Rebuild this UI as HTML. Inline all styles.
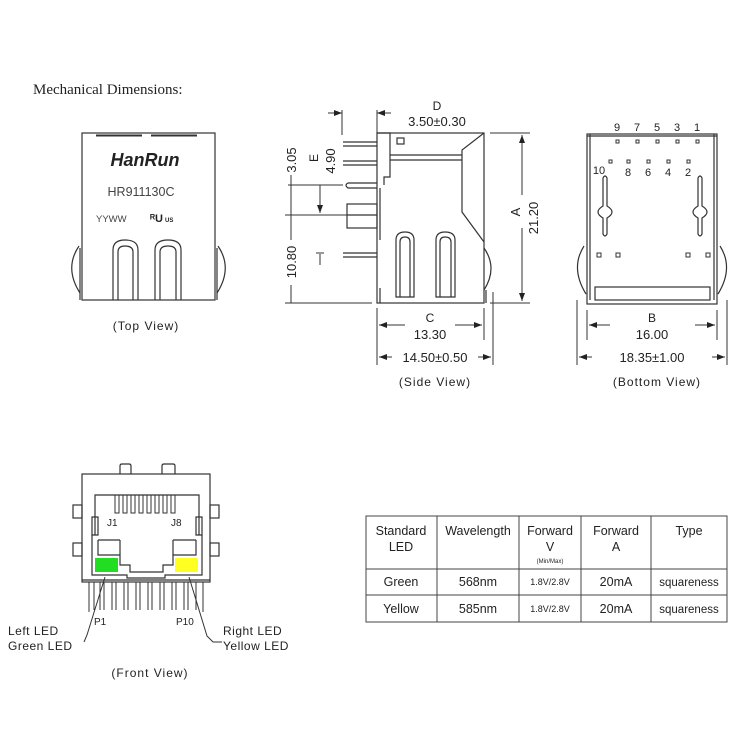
<!DOCTYPE html>
<html><head><meta charset="utf-8"><style>
html,body{margin:0;padding:0;background:#fff;}
svg{display:block;}
text{font-family:"Liberation Sans",sans-serif;fill:#222;}
</style></head><body>
<svg width="750" height="750" viewBox="0 0 750 750" xmlns="http://www.w3.org/2000/svg">
<defs>
<marker id="ar" markerWidth="8" markerHeight="6" refX="8" refY="3" orient="auto" markerUnits="userSpaceOnUse"><path d="M0,0 L8,3 L0,6 z" fill="#222"/></marker>
</defs>
<text x="33" y="94" style="font-family:'Liberation Serif',serif;font-size:15px">Mechanical Dimensions:</text>

<g fill="none" stroke="#333" stroke-width="1.2">
<!-- TOP VIEW -->
<rect x="82" y="133" width="133" height="167"/>
<line x1="96" y1="135.5" x2="142" y2="135.5" stroke-width="2"/>
<line x1="151" y1="135.5" x2="197" y2="135.5" stroke-width="2"/>
<path d="M113,300 L113,250 Q113,240 125,240 Q138,240 138,250 L138,300"/>
<path d="M118,300 L118,252 Q118,246 125,246 Q133,246 133,252 L133,300"/>
<path d="M155,300 L155,250 Q155,240 168,240 Q181,240 181,250 L181,300"/>
<path d="M160,300 L160,252 Q160,246 168,246 Q176,246 176,252 L176,300"/>
<path d="M79,246 Q64,268 80,293"/><line x1="80" y1="248" x2="80" y2="300"/>
<path d="M218,246 Q233,268 217,293"/><line x1="217" y1="248" x2="217" y2="300"/>

<!-- SIDE VIEW -->
<rect x="377" y="133" width="107" height="170"/>
<path d="M377,133 L390,133 L390,177 L384,177 L384,185"/>
<rect x="397" y="138" width="7" height="6"/>
<line x1="390" y1="155" x2="462" y2="155"/><line x1="390" y1="160" x2="462" y2="160"/>
<path d="M484,133 L462,150 L462,212 L484,242"/>
<line x1="343" y1="142" x2="377" y2="142"/><line x1="343" y1="146" x2="377" y2="146"/>
<line x1="343" y1="161" x2="377" y2="161"/><line x1="343" y1="165" x2="377" y2="165"/>
<path d="M377,183 L348,183 Q344,185 348,188 L377,188"/>
<rect x="347" y="204" width="30" height="24"/><line x1="347" y1="215" x2="377" y2="215"/>
<line x1="343" y1="253" x2="377" y2="253"/><line x1="343" y1="257" x2="377" y2="257"/>
<line x1="380" y1="188" x2="380" y2="240"/><line x1="380" y1="288" x2="380" y2="303"/>
<path d="M396,297 L396,240 Q396,232 405,232 Q414,232 414,240 L414,297 Z"/>
<path d="M400,297 L400,242 Q400,237 405,237 Q410,237 410,242 L410,297"/>
<path d="M436,297 L436,240 Q436,232 445,232 Q455,232 455,240 L455,297 Z"/>
<path d="M440,297 L440,242 Q440,237 445,237 Q451,237 451,242 L451,297"/>
<path d="M484,248 Q498,268 484,290"/>
<line x1="486" y1="290" x2="486" y2="303"/>

<!-- side dims -->
<g stroke-width="1">
<line x1="342" y1="110" x2="342" y2="135"/><line x1="377" y1="110" x2="377" y2="133"/>
<line x1="328" y1="113" x2="342" y2="113" marker-end="url(#ar)"/>
<line x1="391" y1="113" x2="377" y2="113" marker-end="url(#ar)"/>
<line x1="490" y1="133" x2="530" y2="133"/><line x1="490" y1="303" x2="530" y2="303"/>
<line x1="522" y1="195" x2="522" y2="135" marker-end="url(#ar)"/>
<line x1="522" y1="228" x2="522" y2="301" marker-end="url(#ar)"/>
<line x1="288" y1="185" x2="343" y2="185"/><line x1="285" y1="215" x2="347" y2="215"/>
<line x1="285" y1="303" x2="372" y2="303"/>
<line x1="291" y1="175" x2="291" y2="185"/><line x1="291" y1="185" x2="291" y2="240"/>
<line x1="291" y1="285" x2="291" y2="303"/>
<line x1="320" y1="185" x2="320" y2="213" marker-end="url(#ar)"/>
<line x1="320" y1="254" x2="320" y2="265"/>
<line x1="316" y1="253" x2="324" y2="253"/>
<line x1="377" y1="308" x2="377" y2="365"/><line x1="484" y1="308" x2="484" y2="340"/>
<line x1="493" y1="292" x2="493" y2="365"/>
<line x1="405" y1="325" x2="379" y2="325" marker-end="url(#ar)"/>
<line x1="455" y1="325" x2="482" y2="325" marker-end="url(#ar)"/>
<line x1="392" y1="357" x2="379" y2="357" marker-end="url(#ar)"/>
<line x1="478" y1="357" x2="491" y2="357" marker-end="url(#ar)"/>
</g>

<!-- BOTTOM VIEW -->
<rect x="587" y="134" width="130" height="170"/>
<line x1="590" y1="134" x2="590" y2="300"/><line x1="714" y1="134" x2="714" y2="300"/>
<line x1="587" y1="136" x2="717" y2="136"/>
<rect x="595" y="287" width="115" height="13"/>
<g stroke-width="1">
<rect x="616" y="140" width="3" height="3"/><rect x="636" y="140" width="3" height="3"/><rect x="656" y="140" width="3" height="3"/><rect x="676" y="140" width="3" height="3"/><rect x="696" y="140" width="3" height="3"/>
<rect x="609" y="160" width="3" height="3"/><rect x="627" y="160" width="3" height="3"/><rect x="647" y="160" width="3" height="3"/><rect x="667" y="160" width="3" height="3"/><rect x="687" y="160" width="3" height="3"/>
<rect x="597" y="253" width="4" height="4"/><rect x="616" y="253" width="4" height="4"/><rect x="686" y="253" width="4" height="4"/><rect x="706" y="253" width="4" height="4"/>
</g>
<path d="M603,206 L603,178 Q605,174 607,178 L607,206 Q617,212 607,218 L607,234 Q605,238 603,234 L603,218 Q593,212 603,206 Z"/>
<path d="M698,206 L698,178 Q700,174 702,178 L702,206 Q712,212 702,218 L702,234 Q700,238 698,234 L698,218 Q688,212 698,206 Z"/>
<path d="M584,246 Q570,268 586,294"/><path d="M720,246 Q734,268 718,294"/>
<g stroke-width="1">
<line x1="587" y1="310" x2="587" y2="340"/><line x1="717" y1="310" x2="717" y2="340"/>
<line x1="577" y1="300" x2="577" y2="365"/><line x1="727" y1="300" x2="727" y2="365"/>
<line x1="610" y1="325" x2="589" y2="325" marker-end="url(#ar)"/>
<line x1="695" y1="325" x2="715" y2="325" marker-end="url(#ar)"/>
<line x1="592" y1="357" x2="579" y2="357" marker-end="url(#ar)"/>
<line x1="712" y1="357" x2="725" y2="357" marker-end="url(#ar)"/>
</g>

<!-- FRONT VIEW -->
<rect x="82" y="474" width="128" height="108"/>
<path d="M120,474 L120,466 Q120,464 122,464 L129,464 Q131,464 131,466 L131,474"/>
<path d="M162,474 L162,466 Q162,464 164,464 L173,464 Q175,464 175,466 L175,474"/>
<rect x="73" y="505" width="9" height="13"/><rect x="73" y="543" width="9" height="13"/>
<rect x="210" y="505" width="9" height="13"/><rect x="210" y="543" width="9" height="13"/>
<path d="M95,535 L95,495 L199,495 L199,535"/>
<path d="M92,535 L92,517 L98,517 L98,535 Z"/><path d="M196,535 L196,517 L202,517 L202,535 Z"/>
<path d="M92,535 L92,575 L127,575 L127,578 L165,578 L165,575 L202,575 L202,535"/>
<path d="M98,540 L98,555 L120,555 L120,565 L130,565 L130,572 L163,572 L163,565 L173,565 L173,555 L196,555 L196,540"/>
<line x1="98" y1="540" x2="120" y2="540"/><line x1="120" y1="540" x2="120" y2="555"/>
<line x1="173" y1="540" x2="196" y2="540"/><line x1="173" y1="540" x2="173" y2="555"/>
<g stroke-width="1">
<rect x="115" y="495" width="4" height="18"/><rect x="123" y="495" width="4" height="18"/><rect x="131" y="495" width="4" height="18"/><rect x="139" y="495" width="4" height="18"/><rect x="147" y="495" width="4" height="18"/><rect x="155" y="495" width="4" height="18"/><rect x="163" y="495" width="4" height="18"/><rect x="171" y="495" width="4" height="18"/>
</g>
<line x1="82" y1="580" x2="210" y2="580"/>
<g stroke-width="1">
<line x1="89" y1="582" x2="89" y2="612"/><line x1="94" y1="582" x2="94" y2="610"/>
<line x1="100" y1="582" x2="100" y2="610"/><line x1="104" y1="582" x2="104" y2="610"/>
<line x1="112" y1="582" x2="112" y2="610"/><line x1="116" y1="582" x2="116" y2="610"/>
<line x1="124" y1="582" x2="124" y2="610"/><line x1="128" y1="582" x2="128" y2="610"/>
<line x1="136" y1="582" x2="136" y2="610"/><line x1="140" y1="582" x2="140" y2="610"/>
<line x1="148" y1="582" x2="148" y2="610"/><line x1="152" y1="582" x2="152" y2="610"/>
<line x1="160" y1="582" x2="160" y2="610"/><line x1="164" y1="582" x2="164" y2="610"/>
<line x1="172" y1="582" x2="172" y2="610"/><line x1="176" y1="582" x2="176" y2="610"/>
<line x1="184" y1="582" x2="184" y2="610"/><line x1="188" y1="582" x2="188" y2="610"/>
<line x1="196" y1="582" x2="196" y2="610"/><line x1="203" y1="582" x2="203" y2="612"/>
<path d="M105,577 L87,635 L84,642"/><path d="M189,577 L207,636 L213,642 L222,642"/>
</g>
</g>
<rect x="95" y="558" width="23" height="14" fill="#22dd22"/>
<rect x="175" y="558" width="23" height="14" fill="#ffff22"/>

<!-- TEXT -->
<text x="145" y="166" text-anchor="middle" style="font-size:18px;font-weight:bold;font-style:italic">HanRun</text>
<text x="141" y="196" text-anchor="middle" style="font-size:12.5px;fill:#444">HR911130C</text>
<text x="96" y="222" style="font-size:9.5px;fill:#444">YYWW</text>
<text x="150" y="222" style="font-size:11px;font-weight:bold">ᴿU</text><text x="165" y="222" style="font-size:6px;font-weight:bold">US</text>
<text x="146" y="330" text-anchor="middle" style="font-size:12px;letter-spacing:1px">(Top View)</text>

<text x="437" y="110" text-anchor="middle" style="font-size:12px">D</text>
<text x="437" y="126" text-anchor="middle" style="font-size:13px">3.50±0.30</text>
<text transform="translate(520,212) rotate(-90)" text-anchor="middle" style="font-size:13px">A</text>
<text transform="translate(538,218) rotate(-90)" text-anchor="middle" style="font-size:13px">21.20</text>
<text transform="translate(296,160) rotate(-90)" text-anchor="middle" style="font-size:13px">3.05</text>
<text transform="translate(318,158) rotate(-90)" text-anchor="middle" style="font-size:12px">E</text>
<text transform="translate(335,161) rotate(-90)" text-anchor="middle" style="font-size:13px">4.90</text>
<text transform="translate(296,262) rotate(-90)" text-anchor="middle" style="font-size:13px">10.80</text>
<text x="430" y="322" text-anchor="middle" style="font-size:12px">C</text>
<text x="430" y="339" text-anchor="middle" style="font-size:13px">13.30</text>
<text x="435" y="362" text-anchor="middle" style="font-size:13px">14.50±0.50</text>
<text x="435" y="386" text-anchor="middle" style="font-size:12px;letter-spacing:1px">(Side View)</text>

<g style="font-size:11px">
<text x="617" y="131" text-anchor="middle">9</text><text x="637" y="131" text-anchor="middle">7</text><text x="657" y="131" text-anchor="middle">5</text><text x="677" y="131" text-anchor="middle">3</text><text x="697" y="131" text-anchor="middle">1</text>
<text x="599" y="174" text-anchor="middle">10</text><text x="628" y="176" text-anchor="middle">8</text><text x="648" y="176" text-anchor="middle">6</text><text x="668" y="176" text-anchor="middle">4</text><text x="688" y="176" text-anchor="middle">2</text>
</g>
<text x="652" y="322" text-anchor="middle" style="font-size:12px">B</text>
<text x="652" y="339" text-anchor="middle" style="font-size:13px">16.00</text>
<text x="652" y="362" text-anchor="middle" style="font-size:13px">18.35±1.00</text>
<text x="657" y="386" text-anchor="middle" style="font-size:12px;letter-spacing:1px">(Bottom View)</text>

<text x="107" y="526" style="font-size:10px">J1</text><text x="171" y="526" style="font-size:10px">J8</text>
<text x="94" y="625" style="font-size:10px">P1</text><text x="176" y="625" style="font-size:10px">P10</text>
<text x="8" y="635" style="font-size:12px;letter-spacing:0.5px">Left LED</text>
<text x="8" y="650" style="font-size:12px;letter-spacing:0.5px">Green LED</text>
<text x="223" y="635" style="font-size:12px;letter-spacing:0.5px">Right LED</text>
<text x="223" y="650" style="font-size:12px;letter-spacing:0.5px">Yellow LED</text>
<text x="150" y="677" text-anchor="middle" style="font-size:12px;letter-spacing:1px">(Front View)</text>

<!-- TABLE -->
<g fill="none" stroke="#444" stroke-width="1">
<rect x="366" y="516" width="361" height="106"/>
<line x1="366" y1="569" x2="727" y2="569"/><line x1="366" y1="595" x2="727" y2="595"/>
<line x1="437" y1="516" x2="437" y2="622"/><line x1="519" y1="516" x2="519" y2="622"/>
<line x1="581" y1="516" x2="581" y2="622"/><line x1="651" y1="516" x2="651" y2="622"/>
</g>
<g style="font-size:12.5px" text-anchor="middle">
<text x="401" y="535">Standard</text><text x="401" y="551">LED</text>
<text x="478" y="535">Wavelength</text>
<text x="550" y="535">Forward</text><text x="550" y="551">V</text>
<text x="550" y="563" style="font-size:6px">(Min/Max)</text>
<text x="616" y="535">Forward</text><text x="616" y="551">A</text>
<text x="689" y="535">Type</text>
<text x="401" y="586">Green</text><text x="478" y="586">568nm</text>
<text x="550" y="585" style="font-size:9px">1.8V/2.8V</text><text x="616" y="586">20mA</text>
<text x="689" y="586" style="font-size:11.5px">squareness</text>
<text x="401" y="613">Yellow</text><text x="478" y="613">585nm</text>
<text x="550" y="612" style="font-size:9px">1.8V/2.8V</text><text x="616" y="613">20mA</text>
<text x="689" y="613" style="font-size:11.5px">squareness</text>
</g>
</svg>
</body></html>
